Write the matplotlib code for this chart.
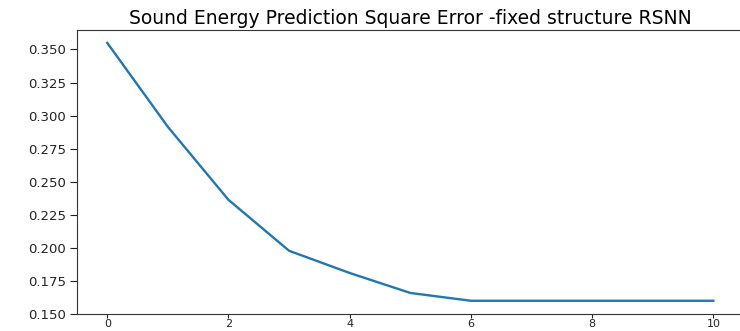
import matplotlib
matplotlib.use("Agg")
import matplotlib.pyplot as plt

epochs = [0, 1, 2, 3, 4, 5, 6, 7, 8, 9, 10]
sq_error = [0.355, 0.2915, 0.2363, 0.1978, 0.181, 0.1659, 0.160, 0.160, 0.160, 0.160, 0.160]
yticks = [0.150, 0.175, 0.200, 0.225, 0.250, 0.275, 0.300, 0.325, 0.350]
xticks = [0, 2, 4, 6, 8, 10]
title = "Sound Energy Prediction Square Error -fixed structure RSNN"

fig = plt.figure(figsize=(7.40, 3.31), dpi=100)
ax = fig.add_axes([0.104, 0.0514, 0.901, 0.858])
ax.plot(epochs, sq_error, color="#1f77b4", linewidth=1.7)
ax.set_xticks(xticks)
ax.set_yticks(yticks)
ax.set_yticklabels([f"{v:.3f}" for v in yticks])
ax.tick_params(axis="both", colors="#222222")
ax.tick_params(axis="x", length=3, pad=0.5, labelsize=8)
ax.tick_params(axis="y", length=5, pad=3, labelsize=9.5)
ax.set_title(title, fontsize=13.5, pad=4)
for s in ax.spines.values():
    s.set_color("#333333")
fig.savefig("out.png", dpi=100)
